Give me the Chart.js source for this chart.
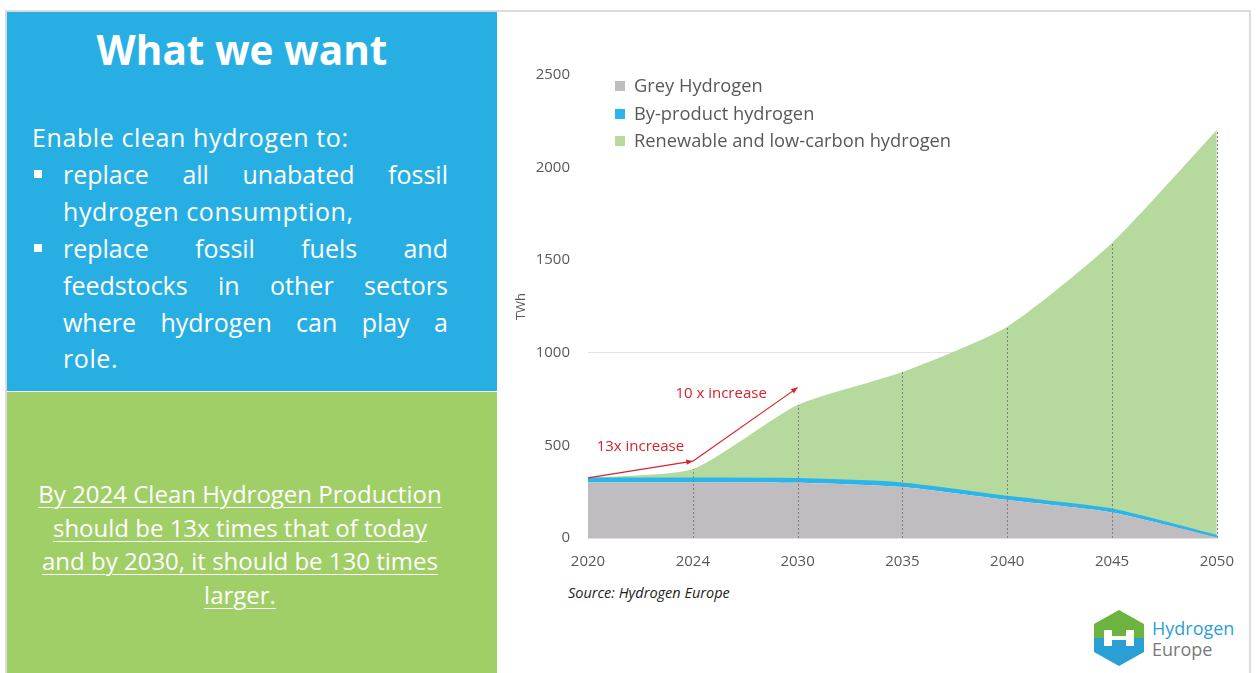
<!DOCTYPE html>
<html>
<head>
<meta charset="utf-8">
<script src="https://cdn.jsdelivr.net/npm/chart.js@4.4.1/dist/chart.umd.min.js"></script>
<style>
  html, body { margin: 0; padding: 0; background: #fff; }
  body { width: 1259px; height: 673px; position: relative; overflow: hidden; font-family: "Open Sans", Lato, sans-serif; }
  .frame { position: absolute; left: 5px; top: 10px; width: 1246px; height: 670px; border: 2px solid #dcdcdc; box-sizing: border-box; }
  .blue { position: absolute; left: 7px; top: 12px; width: 490px; height: 379px; background: #27afe3; color: #fff; }
  .green { position: absolute; left: 7px; top: 392px; width: 490px; height: 290px; background: #9fcf66; color: #fff; }
  .title { position: absolute; left: 0; width: 470px; top: 16px; text-align: center; font-size: 40.5px; font-weight: 700; line-height: 44px; }
  .line { position: absolute; font-size: 25px; letter-spacing: 0.6px; line-height: 30px; white-space: nowrap; }
  .just { text-align: justify; text-align-last: justify; white-space: normal; width: 385px; letter-spacing: 0; }
  .bullet { position: absolute; left: 27px; width: 8px; height: 8px; background: #fff; }
  .gtext { position: absolute; left: 0; width: 466px; top: 85px; text-align: center; font-size: 24px; line-height: 33.5px; text-decoration: underline; text-underline-offset: 4px; text-decoration-thickness: 1px; }
  #wrap { position: absolute; left: 510px; top: 48px; width: 739px; height: 530px; }
  .legend { position: absolute; left: 615px; top: 73px; font-size: 18.3px; color: #595959; }
  .legend div { height: 27.5px; line-height: 24px; white-space: nowrap; }
  .legend span { display: inline-block; width: 10px; height: 10px; margin-right: 9px; vertical-align: 1px; }
  .source { position: absolute; left: 568px; top: 583px; font-size: 14.5px; font-style: italic; color: #222; }
  .logo { position: absolute; left: 1090px; top: 608px; }
  .logotext { position: absolute; left: 1152px; top: 618px; font-size: 18px; line-height: 21px; }
</style>
</head>
<body>
<div class="frame"></div>
<div class="blue">
  <div class="title">What we want</div>
  <div class="line" style="left:25px; top:110px;">Enable clean hydrogen to:</div>
  <div class="bullet" style="top:158px;"></div>
  <div class="line just" style="left:56px; top:147px;">replace all unabated fossil</div>
  <div class="line" style="left:56px; top:184px;">hydrogen consumption,</div>
  <div class="bullet" style="top:232px;"></div>
  <div class="line just" style="left:56px; top:221px;">replace fossil fuels and</div>
  <div class="line just" style="left:56px; top:258px;">feedstocks in other sectors</div>
  <div class="line just" style="left:56px; top:295px;">where hydrogen can play a</div>
  <div class="line" style="left:56px; top:331px;">role.</div>
</div>
<div class="green">
  <div class="gtext">By 2024 Clean Hydrogen Production<br>should be 13x times that of today<br>and by 2030, it should be 130 times<br>larger.</div>
</div>

<div id="wrap"><canvas id="chart"></canvas></div>
<div class="legend" id="legend"></div>
<div class="source">Source: Hydrogen Europe</div>

<svg class="logo" width="58" height="60" viewBox="0 0 58 60">
  <defs>
    <clipPath id="hex"><polygon points="29,2 54,16 54,44 29,58 4,44 4,16"/></clipPath>
  </defs>
  <g clip-path="url(#hex)">
    <rect x="0" y="0" width="58" height="30" fill="#6cb33f"/>
    <rect x="0" y="30" width="58" height="30" fill="#2a9fd6"/>
  </g>
  <path d="M14,22 h8 v6 h14 v-6 h8 v16 h-8 v-6 h-14 v6 h-8 z" fill="#fff"/>
</svg>
<div class="logotext"><div style="color:#2b9fd8;">Hydrogen</div><div style="color:#7a7a7a;">Europe</div></div>

<script>
// years on the x axis
const years = ["2020", "2024", "2030", "2035", "2040", "2045", "2050"];

// TWh
const greyHydrogen = [300, 300, 298, 275, 205, 138, 4];
const byProductHydrogen = [18, 18, 18, 17, 15, 13, 4];
const renewableHydrogen = [6, 54, 402, 604, 921, 1442, 2195];

const yTicks = [0, 500, 1000, 1500, 2000, 2500];

// red arrows: [fromYearIndex, fromValue, toYearIndex, toValue]
const arrows = [
  [0, 325, 1, 415],
  [1, 415, 2, 812]
];
// red labels: [text, yearIndex, value]
const arrowLabels = [
  ["13x increase", 0.5, 492],
  ["10 x increase", 1.27, 780]
];

const colors = {
  grey: "#bfbdbf",
  blue: "#2bb5ea",
  green: "#b6d99d",
  text: "#595959",
  red: "#d8222a"
};
const FONT = "'Open Sans', Lato, sans-serif";

const totals = years.map((_, i) => greyHydrogen[i] + byProductHydrogen[i] + renewableHydrogen[i]);

const dropLines = {
  id: "dropLines",
  afterDatasetsDraw(chart) {
    const { ctx, scales: { x, y } } = chart;
    ctx.save();
    ctx.strokeStyle = "#808080";
    ctx.lineWidth = 1;
    ctx.setLineDash([2, 2]);
    for (let i = 1; i < years.length; i++) {
      const px = Math.round(x.getPixelForValue(i)) + 0.5;
      ctx.beginPath();
      ctx.moveTo(px, y.getPixelForValue(0));
      ctx.lineTo(px, y.getPixelForValue(totals[i]));
      ctx.stroke();
    }
    ctx.restore();
  }
};

const arrowNotes = {
  id: "arrowNotes",
  afterDraw(chart) {
    const { ctx, scales: { x, y } } = chart;
    const px = (i) => x.left + (x.right - x.left) * i / (years.length - 1);
    ctx.save();
    ctx.strokeStyle = colors.red;
    ctx.fillStyle = colors.red;
    ctx.lineWidth = 1.2;
    arrows.forEach(([i0, v0, i1, v1]) => {
      const x0 = px(i0), y0 = y.getPixelForValue(v0);
      const x1 = px(i1), y1 = y.getPixelForValue(v1);
      ctx.beginPath();
      ctx.moveTo(x0, y0);
      ctx.lineTo(x1, y1);
      ctx.stroke();
      const a = Math.atan2(y1 - y0, x1 - x0);
      ctx.beginPath();
      ctx.moveTo(x1, y1);
      ctx.lineTo(x1 - 7 * Math.cos(a - 0.4), y1 - 7 * Math.sin(a - 0.4));
      ctx.lineTo(x1 - 7 * Math.cos(a + 0.4), y1 - 7 * Math.sin(a + 0.4));
      ctx.closePath();
      ctx.fill();
    });
    ctx.font = "15px " + FONT;
    ctx.textAlign = "center";
    ctx.textBaseline = "middle";
    arrowLabels.forEach(([t, i, v]) => {
      ctx.fillText(t, px(i), y.getPixelForValue(v));
    });
    ctx.restore();
  }
};

const chart = new Chart(document.getElementById("chart"), {
  type: "line",
  data: {
    labels: years,
    datasets: [
      {
        label: "Grey Hydrogen",
        data: greyHydrogen,
        backgroundColor: colors.grey,
        borderWidth: 0,
        fill: "origin",
        pointRadius: 0,
        tension: 0.2
      },
      {
        label: "By-product hydrogen",
        data: byProductHydrogen,
        backgroundColor: colors.blue,
        borderColor: colors.blue,
        borderWidth: 3,
        fill: "-1",
        pointRadius: 0,
        tension: 0.2
      },
      {
        label: "Renewable and low-carbon hydrogen",
        data: renewableHydrogen,
        backgroundColor: colors.green,
        borderWidth: 0,
        fill: "-1",
        pointRadius: 0,
        tension: 0.2
      }
    ]
  },
  options: {
    responsive: true,
    maintainAspectRatio: false,
    animation: false,
    layout: { padding: { top: 3, right: 16, left: 0, bottom: 0 } },
    plugins: {
      legend: { display: false },
      tooltip: { enabled: false }
    },
    scales: {
      x: {
        offset: false,
        grid: { display: false, drawTicks: false },
        border: { display: true, color: "#dedede" },
        ticks: { color: colors.text, font: { size: 15, family: FONT }, padding: 15, maxRotation: 0 },
        afterFit: (s) => { s.height = 40; }
      },
      y: {
        stacked: true,
        min: 0,
        max: 2500,
        afterBuildTicks: (s) => { s.ticks = yTicks.map((v) => ({ value: v })); },
        grid: {
          drawTicks: false,
          color: (c) => (c.tick && c.tick.value === 1000 ? "#e4e4e4" : "rgba(0,0,0,0)")
        },
        border: { display: false },
        ticks: { color: colors.text, font: { size: 15, family: FONT }, padding: 18, callback: (v) => String(v) },
        title: { display: true, text: "TWh", color: colors.text, font: { size: 13, family: FONT }, padding: 3 },
        afterFit: (s) => { s.width = 78; }
      }
    }
  },
  plugins: [dropLines, arrowNotes]
});

// html legend from the datasets
document.getElementById("legend").innerHTML = chart.data.datasets
  .map((d) => `<div><span style="background:${d.backgroundColor}"></span>${d.label}</div>`)
  .join("");
</script>
</body>
</html>
